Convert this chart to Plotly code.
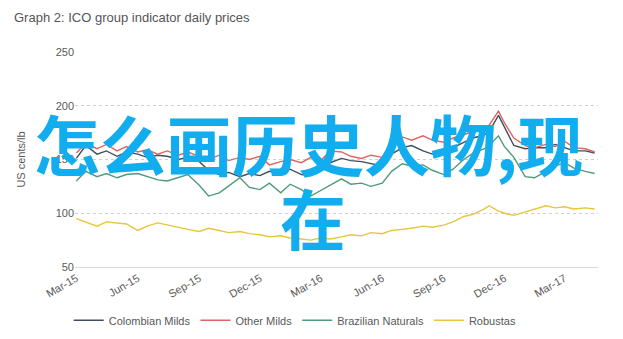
import plotly.graph_objects as go

# Observation dates (roughly twice a month)
dates = [
    "2015-03-01", "2015-03-15", "2015-04-01", "2015-04-15", "2015-05-01", "2015-05-15",
    "2015-06-01", "2015-06-15", "2015-07-01", "2015-07-15", "2015-08-01", "2015-08-15",
    "2015-09-01", "2015-09-15", "2015-10-01", "2015-10-15", "2015-11-01", "2015-11-15",
    "2015-12-01", "2015-12-15", "2016-01-01", "2016-01-15", "2016-02-01", "2016-02-15",
    "2016-03-01", "2016-03-15", "2016-04-01", "2016-04-15", "2016-05-01", "2016-05-15",
    "2016-06-01", "2016-06-15", "2016-07-01", "2016-07-15", "2016-08-01", "2016-08-15",
    "2016-09-01", "2016-09-15", "2016-10-01", "2016-10-15", "2016-11-01", "2016-11-08",
    "2016-11-22", "2016-12-01", "2016-12-15", "2017-01-01", "2017-01-15", "2017-02-01",
    "2017-02-15", "2017-03-01", "2017-03-15", "2017-04-01", "2017-04-15",
]

colombian_milds = [
    151, 163, 155, 158, 153, 157, 155, 152, 154, 153, 150, 152,
    148, 140, 136, 138, 134, 137, 135, 139, 137, 141, 136, 135,
    140, 147, 151, 149, 148, 146, 144, 155, 161, 163, 158, 155,
    158, 161, 166, 170, 173, 176, 191, 180, 163, 160, 161, 161,
    164, 161, 158, 158, 156,
]

other_milds = [
    156, 165, 160, 164, 158, 162, 157, 159, 155, 158, 154, 157,
    153, 150, 154, 149, 152, 150, 153, 145, 148, 150, 147, 152,
    149, 158, 157, 153, 151, 154, 152, 165, 171, 168, 172, 168,
    166, 170, 173, 176, 180, 182, 195, 184, 170, 163, 161, 164,
    162, 167, 161, 160, 157,
]

brazilian_naturals = [
    130, 139, 134, 137, 133, 136, 137, 134, 131, 130, 133, 136,
    126, 116, 119, 125, 133, 124, 122, 128, 119, 127, 122, 116,
    121, 126, 132, 127, 128, 125, 128, 139, 146, 144, 145, 140,
    136, 141, 150, 156, 160, 163, 172, 162, 152, 134, 133, 139,
    144, 147, 142, 139, 137,
]

robustas = [
    95, 92, 88, 92, 91, 90, 84, 88, 91, 89, 87, 85,
    83, 86, 84, 82, 83, 81, 80, 78, 79, 77, 76, 75,
    77, 76, 78, 80, 79, 82, 81, 84, 85, 86, 88, 87,
    89, 92, 97, 99, 104, 107, 102, 100, 98, 101, 104, 107,
    105, 106, 104, 105, 104,
]

tick_dates = [
    "2015-03-01", "2015-06-01", "2015-09-01", "2015-12-01", "2016-03-01",
    "2016-06-01", "2016-09-01", "2016-12-01", "2017-03-01",
]
tick_labels = [
    "Mar-15", "Jun-15", "Sep-15", "Dec-15", "Mar-16",
    "Jun-16", "Sep-16", "Dec-16", "Mar-17",
]

series = [
    ("Colombian Milds", colombian_milds, "#3f4e5e"),
    ("Other Milds", other_milds, "#e0645f"),
    ("Brazilian Naturals", brazilian_naturals, "#4f9a7c"),
    ("Robustas", robustas, "#e8c53a"),
]

fig = go.Figure()
for name, values, color in series:
    fig.add_trace(go.Scatter(
        x=dates, y=values, name=name, mode="lines",
        line=dict(color=color, width=1.4),
    ))

grey = "#595959"
fig.update_layout(
    width=623, height=339,
    margin=dict(l=75, r=25, t=52, b=72, autoexpand=False),
    paper_bgcolor="white", plot_bgcolor="white",
    font=dict(family="Liberation Sans, Arial, sans-serif", size=11, color=grey),
    title=dict(
        text="Graph 2: ICO group indicator daily prices",
        x=14 / 623, xanchor="left", y=1 - 17 / 339, yanchor="middle",
        font=dict(size=13, color="#555555"),
    ),
    showlegend=True,
    legend=dict(
        orientation="h", x=0.421, xanchor="center", y=-0.248, yanchor="middle",
        font=dict(size=11, color=grey), itemwidth=30,
    ),
    xaxis=dict(
        range=["2015-02-27", "2017-04-20"],
        tickvals=tick_dates, ticktext=tick_labels, tickangle=-30,
        showgrid=False, showline=True, linecolor="#d9d9d9", linewidth=1,
        ticks="", tickfont=dict(size=11, color=grey),
    ),
    yaxis=dict(
        range=[50, 250], tickvals=[50, 100, 150, 200, 250],
        showgrid=True, gridcolor="#d0d0d0", griddash="dot", gridwidth=1,
        zeroline=False, ticks="", tickfont=dict(size=11, color=grey),
        title=dict(text="US cents/lb", font=dict(size=11, color=grey), standoff=27),
    ),
)

# Large overlay caption across the plot
overlay_font = dict(family="Noto Sans CJK SC", size=66, color="#12adef", weight="bold")
fig.add_annotation(
    text="怎么画历史人物,现", xref="paper", yref="paper",
    x=(308 - 75) / 523, y=(267 - 142) / 215, xanchor="center", yanchor="middle",
    showarrow=False, font=overlay_font,
)
fig.add_annotation(
    text="在", xref="paper", yref="paper",
    x=(313 - 75) / 523, y=(267 - 216) / 215, xanchor="center", yanchor="middle",
    showarrow=False, font=overlay_font,
)

fig.write_html("out.html")
